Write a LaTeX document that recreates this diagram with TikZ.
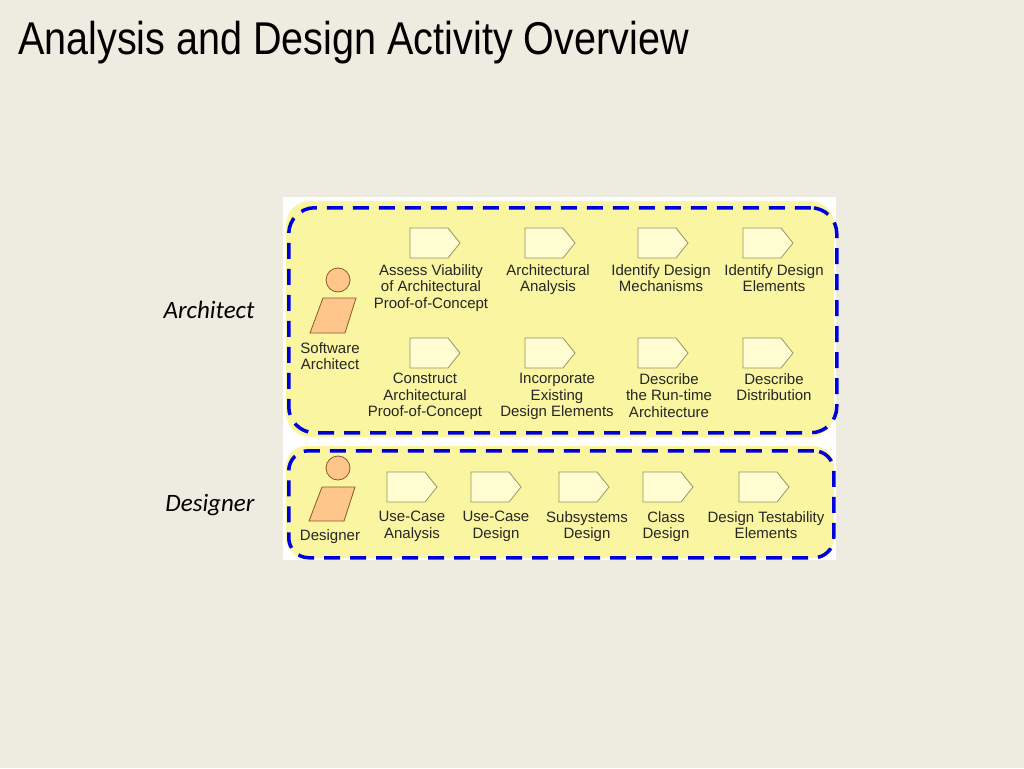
\documentclass[tikz,border=0pt]{standalone}
\usepackage{fontspec}
\setmainfont{Liberation Sans}
\newfontfamily\lab{Carlito}
\definecolor{bg}{HTML}{EEECE1}
\definecolor{pan}{HTML}{FAF5A0}
\begin{document}
\begin{tikzpicture}[x=1pt,y=-1pt,
  txt/.style={font=\fontsize{15}{16.5}\selectfont,align=center,text=black!85,inner sep=0},
  bluedash/.style={draw=blue!85!black,line width=3.5pt,dash pattern=on 16pt off 10pt,rounded corners=26pt},
  act/.style={draw=black!45!yellow!60!gray,fill=yellow!18,line width=0.8pt},
  actor/.style={draw=brown!70!black,fill=orange!45!white,line width=0.8pt}]
\fill[bg] (0,0) rectangle (1024,768);
\useasboundingbox (0,0) rectangle (1024,768);
\node[anchor=west,inner sep=0,font=\fontsize{46}{50}\selectfont] (title) at (18,43) {\scalebox{0.86}[1]{Analysis and Design Activity Overview}};
\fill[white] (283,197) rectangle (836,560);
\fill[pan,rounded corners=24pt] (286,201) rectangle (834,437);
\fill[pan,rounded corners=20pt] (286,446) rectangle (834,558);
\node[bluedash,minimum width=548,minimum height=225,anchor=north west] (arch) at (287,206) {};
\node[bluedash,rounded corners=20pt,minimum width=545,minimum height=107,anchor=north west] (des) at (287,449) {};
\node[font=\lab\itshape\fontsize{25}{28}\selectfont,anchor=east] (la) at (258,310) {Architect};
\node[font=\lab\itshape\fontsize{25}{28}\selectfont,anchor=east] (ld) at (258,505) {Designer};
% actors
\draw[actor] (338,280) circle (12);
\draw[actor] (323,298) -- (356,298) -- (345,333) -- (310,333) -- cycle;
\node[txt] (sa) at (330,356) {Software\\Architect};
\draw[actor] (338,468) circle (12);
\draw[actor] (322,487) -- (355,487) -- (344,521) -- (309,521) -- cycle;
\node[txt] (dn) at (330,537) {Designer};
\newcommand{\actv}[2]{\draw[act] (#1-25,#2-15) -- (#1+13,#2-15) -- (#1+25,#2) -- (#1+13,#2+15) -- (#1-25,#2+15) -- cycle;}
\foreach \x in {435,550,663,768}{\actv{\x}{243}\actv{\x}{353}}
\foreach \x in {412,496,584,668,764}{\actv{\x}{487}}
\node[txt,anchor=north] (a1) at (431,264) {Assess Viability\\of Architectural\\Proof-of-Concept};
\node[txt,anchor=north] (a2) at (548,264) {Architectural\\Analysis};
\node[txt,anchor=north] (a3) at (661,264) {Identify Design\\Mechanisms};
\node[txt,anchor=north] (a4) at (774,264) {Identify Design\\Elements};
\node[txt,anchor=north] (b1) at (425,373) {Construct\\Architectural\\Proof-of-Concept};
\node[txt,anchor=north] (b2) at (557,373) {Incorporate\\Existing\\Design Elements};
\node[txt,anchor=north] (b3) at (669,373) {Describe\\the Run-time\\Architecture};
\node[txt,anchor=north] (b4) at (774,373) {Describe\\Distribution};
\node[txt,anchor=north] (c1) at (412,511) {Use-Case\\Analysis};
\node[txt,anchor=north] (c2) at (496,511) {Use-Case\\Design};
\node[txt,anchor=north] (c3) at (587,511) {Subsystems\\Design};
\node[txt,anchor=north] (c4) at (666,511) {Class\\Design};
\node[txt,anchor=north] (c5) at (766,511) {Design Testability\\Elements};
\end{tikzpicture}
\end{document}
